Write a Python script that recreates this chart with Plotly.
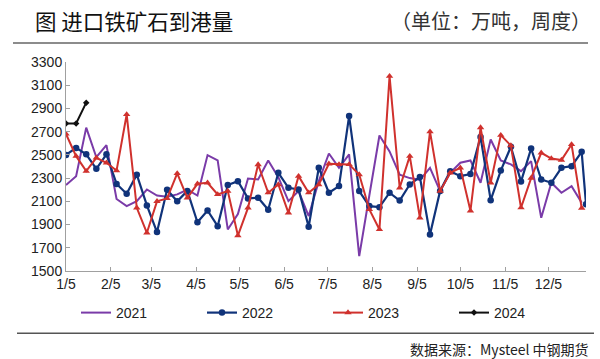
import pandas as pd
import plotly.graph_objects as go

# ---- data (weekly arrivals, 10k tonnes) ----
month_ticks = ["1/5", "2/5", "3/5", "4/5", "5/5", "6/5", "7/5", "8/5", "9/5", "10/5", "11/5", "12/5"]

y2021 = [2240, 2317, 2735, 2480, 2584, 2120, 2059, 2102, 2202, 2150,
         2140, 2160, 2200, 2150, 2498, 2452, 1858, 1990, 2297, 2288,
         2452, 2308, 2102, 2188, 1973, 2274, 2512, 2389, 2504, 1628,
         2150, 2667, 2530, 2330, 2300, 2285, 2389, 2188, 2346, 2432,
         2452, 2260, 2633, 2452, 2418, 2360, 2446, 1958, 2260, 2174,
         2231, 2087]

y2022 = [2500, 2560, 2505, 2380, 2505, 2250, 2165, 2330, 2065, 1835,
         2200, 2100, 2190, 1920, 2021, 1886, 2240, 2274, 2125, 2131,
         2027, 2346, 2217, 2202, 1881, 2389, 2174, 2231, 2834, 2188,
         2059, 2050, 2174, 2107, 2245, 2310, 1815, 2190, 2360, 2317,
         2335, 2655, 2110, 2365, 2570, 2270, 2555, 2288, 2260, 2389,
         2403, 2526, 2075]

y2023 = [2680, 2489, 2360, 2475, 2432, 2365, 2848, 2044, 1829, 2100,
         2125, 2340, 2130, 2251, 2260, 2159, 2188, 1805, 2044, 2417,
         2174, 2245, 2001, 2317, 2174, 2245, 2423, 2418, 2418, 2331,
         2030, 1858, 3178, 2217, 2489, 1958, 2700, 2188, 2346, 2389,
         2018, 2735, 2260, 2670, 2580, 2045, 2300, 2518, 2468, 2455,
         2590, 2042]

y2024 = [2770, 2770, 2950]

# common (dummy-year) weekly dates
weeks = [d.strftime("%Y-%m-%d") for d in pd.date_range("2021-01-05", periods=52, freq="7D")]
dates2022 = weeks + ["2021-12-31"]
tick_dates = [f"2021-{m:02d}-05" for m in range(1, 13)]

fig = go.Figure()
fig.add_trace(go.Scatter(x=weeks[:len(y2021)], y=y2021, name="2021", mode="lines",
                         line=dict(color="#7A3BA8", width=2)))
fig.add_trace(go.Scatter(x=dates2022[:len(y2022)], y=y2022, name="2022", mode="lines+markers",
                         line=dict(color="#10337A", width=2.2),
                         marker=dict(symbol="circle", size=6.5, color="#10337A")))
fig.add_trace(go.Scatter(x=weeks[:len(y2023)], y=y2023, name="2023", mode="lines+markers",
                         line=dict(color="#D0312D", width=2),
                         marker=dict(symbol="triangle-up", size=6.5, color="#D0312D")))
fig.add_trace(go.Scatter(x=weeks[:len(y2024)], y=y2024, name="2024", mode="lines+markers",
                         line=dict(color="#111111", width=2),
                         marker=dict(symbol="diamond", size=5, color="#111111")))

W, H = 600, 359
L, R, T = 66, 14, 62
B = H - 271
pw, ph = W - L - R, H - T - B

def px(x):  # page pixel -> paper x
    return (x - L) / pw

def py(y):  # page pixel -> paper y
    return (H - B - y) / ph

fig.update_layout(
    width=W, height=H,
    margin=dict(l=L, r=R, t=T, b=B, autoexpand=False),
    paper_bgcolor="white", plot_bgcolor="white",
    font=dict(family="Liberation Sans, Arial, sans-serif", size=14, color="#222"),
    showlegend=True,
    legend=dict(orientation="h", x=px(76), y=py(313), xanchor="left", yanchor="middle",
                entrywidth=81, entrywidthmode="pixels", itemwidth=30,
                font=dict(size=14, color="#222"), bgcolor="rgba(0,0,0,0)"),
    xaxis=dict(type="date", range=["2021-01-05", "2021-12-31"],
               tickvals=tick_dates, ticktext=month_ticks,
               showgrid=False, zeroline=False,
               showline=True, linecolor="#A0A0A0", linewidth=1,
               ticks="inside", ticklen=4, tickcolor="#A0A0A0",
               tickfont=dict(size=14, color="#222")),
    yaxis=dict(range=[1500, 3300], dtick=200, tick0=1500,
               showgrid=False, zeroline=False,
               showline=True, linecolor="#A0A0A0", linewidth=1,
               ticks="inside", ticklen=4, tickcolor="#A0A0A0",
               tickfont=dict(size=14, color="#222")),
    shapes=[
        dict(type="rect", xref="paper", yref="paper", layer="above",
             x0=px(13), x1=px(588), y0=py(44), y1=py(42),
             line=dict(width=0), fillcolor="#8C8C8C"),
        dict(type="rect", xref="paper", yref="paper", layer="above",
             x0=px(17), x1=px(594), y0=py(334), y1=py(332.5),
             line=dict(width=0), fillcolor="#555555"),
    ],
    annotations=[
        dict(text="图 进口铁矿石到港量", xref="paper", yref="paper", x=px(33), y=py(20.5),
             xanchor="left", yanchor="middle", showarrow=False,
             font=dict(family="Noto Sans CJK SC", size=21.5, color="#111")),
        dict(text="（单位：万吨，周度）", xref="paper", yref="paper", x=px(593), y=py(21),
             xanchor="right", yanchor="middle", showarrow=False,
             font=dict(family="Noto Sans CJK SC", size=20, color="#333")),
        dict(text="数据来源：Mysteel 中钢期货", xref="paper", yref="paper", x=px(591), y=py(349),
             xanchor="right", yanchor="middle", showarrow=False,
             font=dict(family="Noto Sans CJK SC", size=14, color="#222")),
    ],
)

# remove the default 8px page margin so the 600x359 figure fills the window exactly
fig.write_html("out.html", config={"displayModeBar": False},
               post_script="document.body.style.margin='0';")
